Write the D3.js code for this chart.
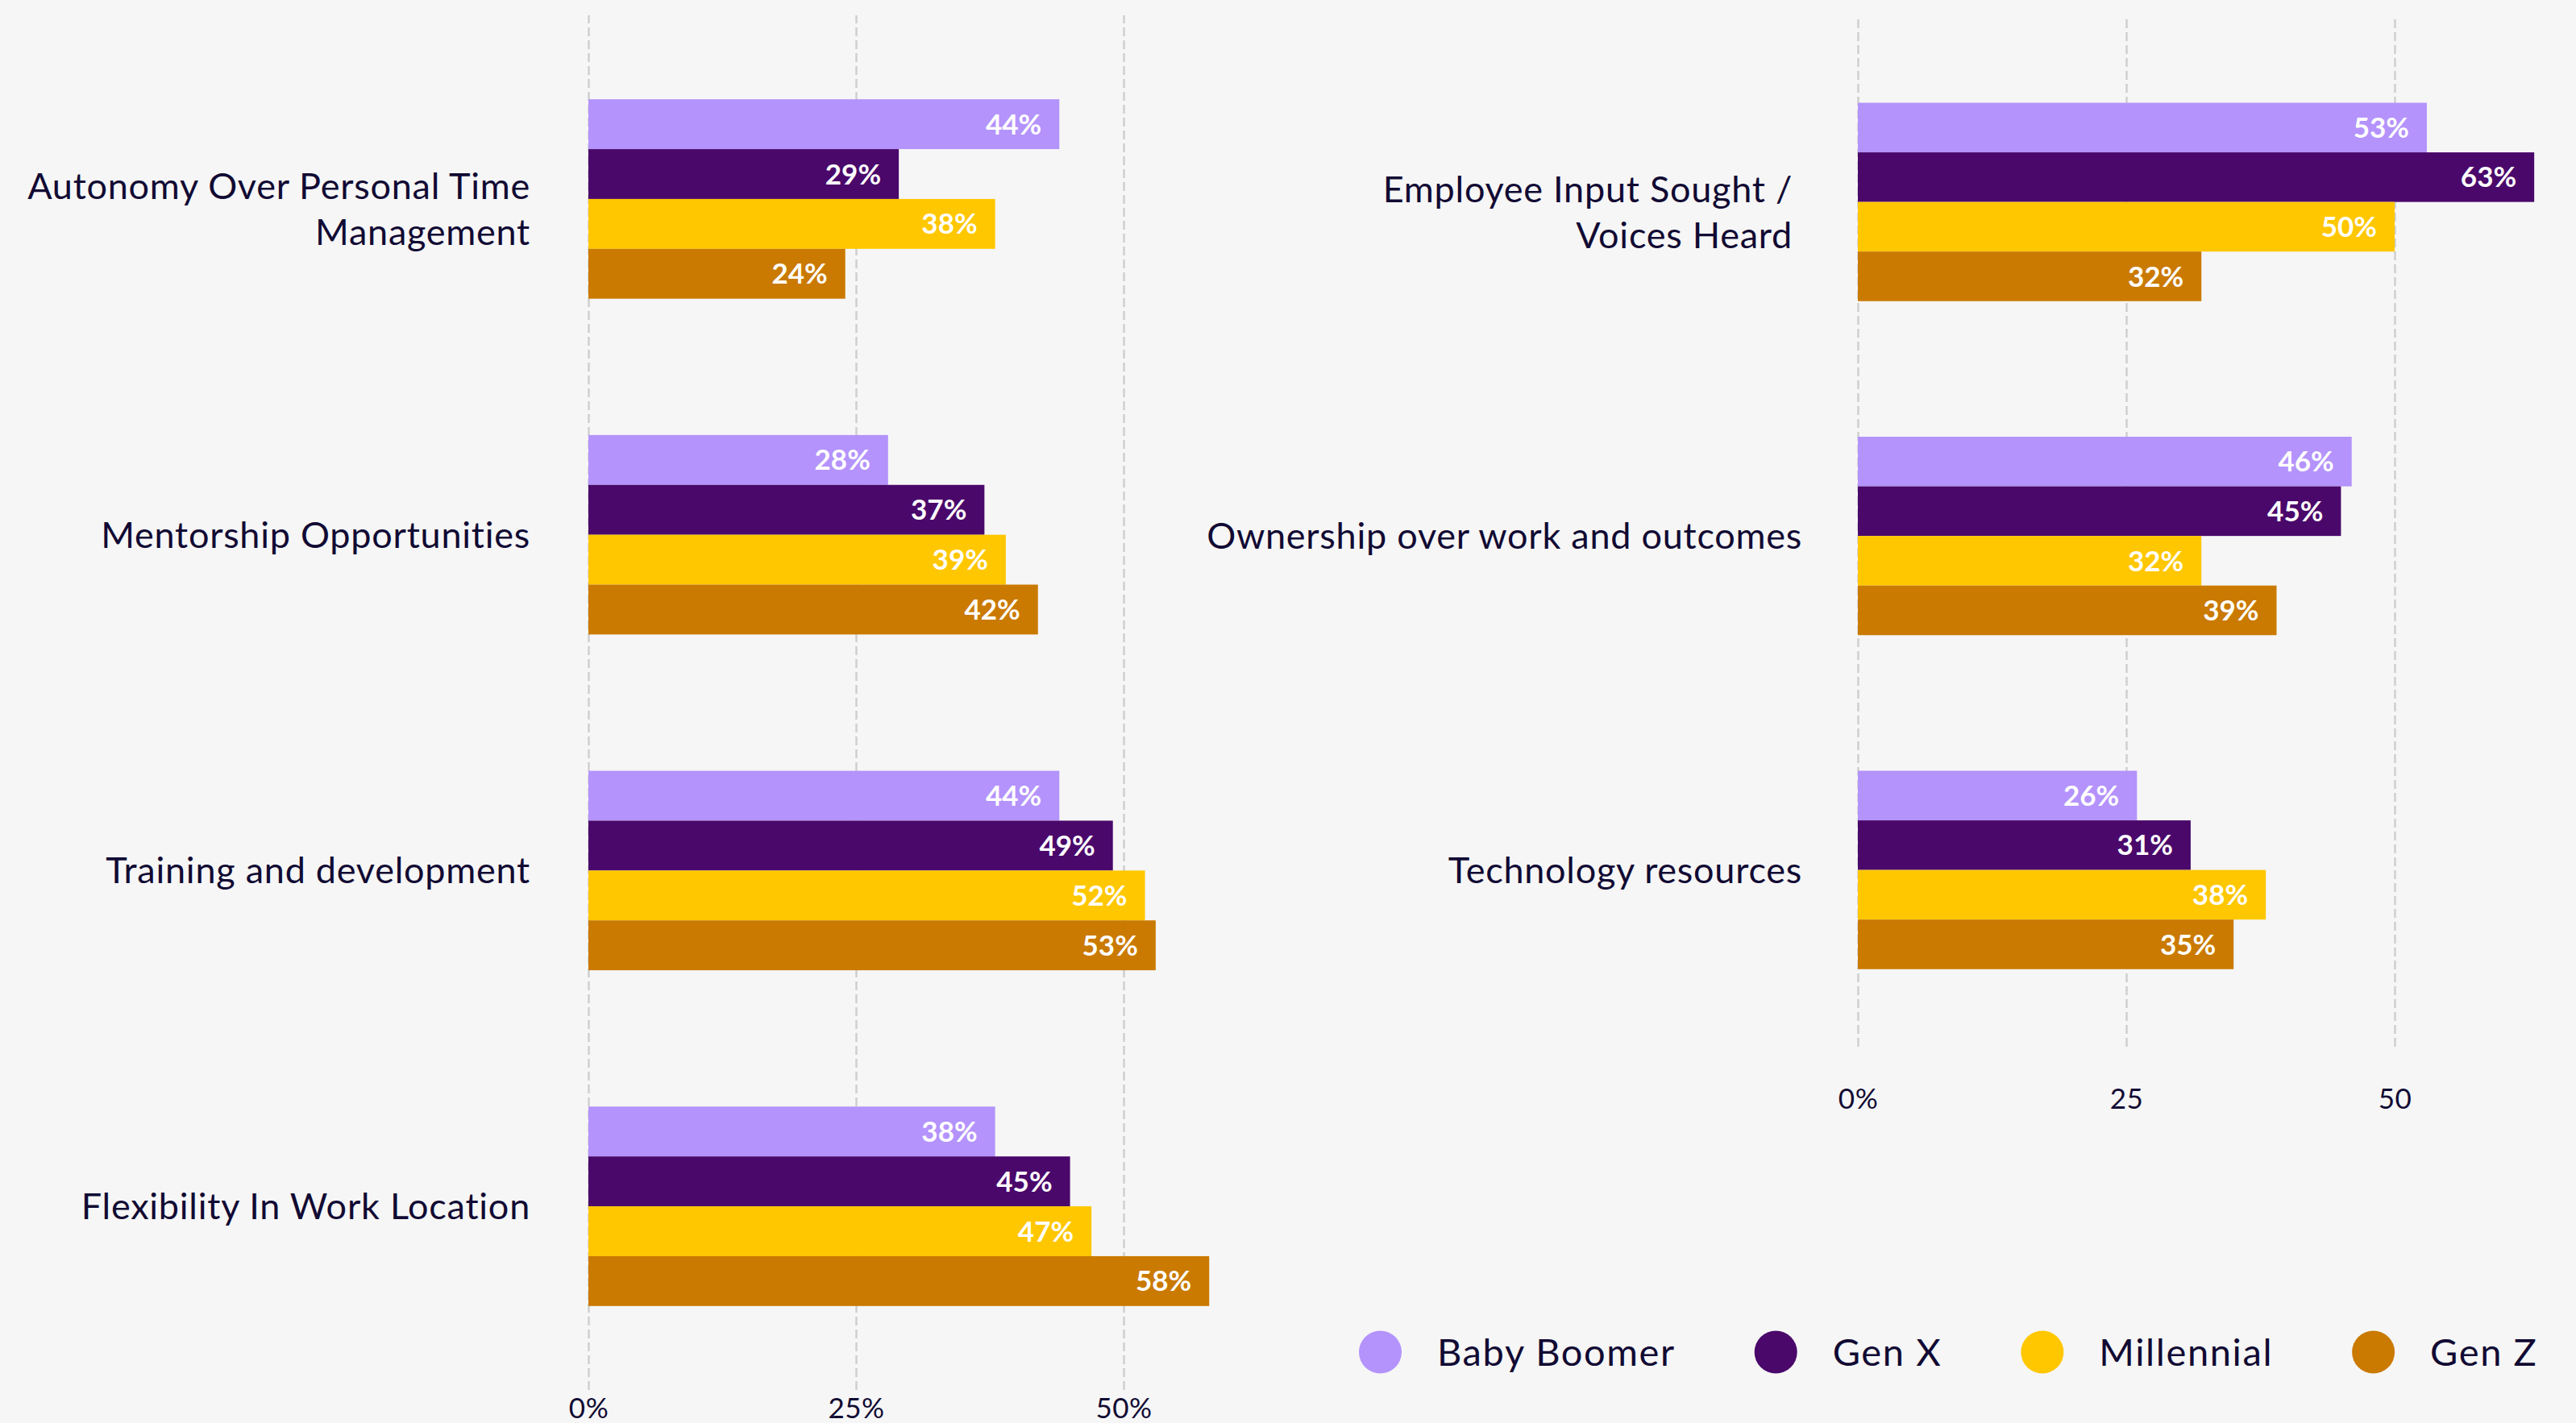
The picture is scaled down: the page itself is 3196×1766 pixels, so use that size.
<!DOCTYPE html>
<html>
<head>
<meta charset="utf-8">
<script src="https://cdn.jsdelivr.net/npm/d3@7"></script>
<style>
  html, body { margin: 0; padding: 0; background: #f6f6f6; }
  svg { display: block; font-family: Lato, "Open Sans", sans-serif; }
</style>
</head>
<body>
<svg id="chart" width="3196" height="1766"></svg>
<script>
// Generations (series) and their colours
const generations = ["Baby Boomer", "Gen X", "Millennial", "Gen Z"];
const genColors = ["#b493fc", "#4a086b", "#ffc700", "#ca7a00"];

// Left panel: categories (label lines) and percentages per generation
const leftCategories = [
  ["Autonomy Over Personal Time", "Management"],
  ["Mentorship Opportunities"],
  ["Training and development"],
  ["Flexibility In Work Location"]
];
const leftValues = [
  [44, 29, 38, 24],
  [28, 37, 39, 42],
  [44, 49, 52, 53],
  [38, 45, 47, 58]
];
const leftTicks = [0, 25, 50];
const leftTickLabels = ["0%", "25%", "50%"];

// Right panel
const rightCategories = [
  ["Employee Input Sought /", "Voices Heard"],
  ["Ownership over work and outcomes"],
  ["Technology resources"]
];
const rightValues = [
  [53, 63, 50, 32],
  [46, 45, 32, 39],
  [26, 31, 38, 35]
];
const rightTicks = [0, 25, 50];
const rightTickLabels = ["0%", "25", "50"];

const TEXT = "#110a33";
const svg = d3.select("#chart");
svg.append("rect").attr("width", 3196).attr("height", 1766).attr("fill", "#f6f6f6");

function drawPanel(cfg) {
  const keys = cfg.categories.map(c => c.join(" "));
  const x = d3.scaleLinear().domain([0, 50]).range([cfg.x0, cfg.x50]);
  const y = d3.scaleBand().domain(keys)
    .range([cfg.top, cfg.bottom])
    .paddingInner(0.406).paddingOuter(cfg.outer).align(cfg.align);
  const yInner = d3.scaleBand().domain(generations).range([0, y.bandwidth()]).padding(0);
  const color = d3.scaleOrdinal().domain(generations).range(genColors);

  const g = svg.append("g");

  // dashed vertical gridlines + tick labels
  const axis = d3.axisBottom(x)
    .tickValues(cfg.ticks)
    .tickFormat((d, i) => cfg.tickLabels[i])
    .tickSize(-(cfg.bottom - cfg.top))
    .tickPadding(cfg.tickPad);
  const ax = g.append("g")
    .attr("transform", `translate(0,${cfg.bottom})`)
    .call(axis);
  ax.select(".domain").remove();
  ax.selectAll(".tick line")
    .attr("stroke", "#cfcfcf")
    .attr("stroke-width", 2.5)
    .attr("stroke-dasharray", "11,5");
  ax.selectAll(".tick text")
    .attr("fill", TEXT)
    .style("font-family", "Lato, sans-serif")
    .style("font-size", "35px")
    .style("letter-spacing", "0.5px");

  // bar groups
  const groups = g.selectAll("g.cat")
    .data(cfg.values.map((vals, i) => ({ key: keys[i], lines: cfg.categories[i], vals })))
    .join("g")
    .attr("class", "cat")
    .attr("transform", d => `translate(0,${y(d.key)})`);

  groups.selectAll("rect")
    .data(d => d.vals.map((v, j) => ({ gen: generations[j], v })))
    .join("rect")
    .attr("x", x(0))
    .attr("y", d => yInner(d.gen))
    .attr("width", d => x(d.v) - x(0))
    .attr("height", yInner.bandwidth())
    .attr("fill", d => color(d.gen));

  groups.selectAll("text.val")
    .data(d => d.vals.map((v, j) => ({ gen: generations[j], v })))
    .join("text")
    .attr("class", "val")
    .attr("x", d => x(d.v) - 22)
    .attr("y", d => yInner(d.gen) + yInner.bandwidth() / 2)
    .attr("dy", "0.36em")
    .attr("text-anchor", "end")
    .attr("fill", "#ffffff")
    .style("font-size", "35px")
    .style("font-weight", 700)
    .text(d => d.v + "%");

  // category labels
  const lineH = 57;
  groups.append("text")
    .attr("text-anchor", "end")
    .attr("fill", TEXT)
    .style("font-size", "45px")
    .style("letter-spacing", "0.75px")
    .each(function (d) {
      const n = d.lines.length;
      const c = y.bandwidth() / 2;
      const base = c + 16 - (n - 1) * 15.5;
      d3.select(this).selectAll("tspan")
        .data(d.lines)
        .join("tspan")
        .attr("x", cfg.labelX - (n - 1) * cfg.wrapShift)
        .attr("y", (t, k) => base + k * lineH)
        .text(t => t);
    });
}

drawPanel({
  categories: leftCategories, values: leftValues,
  ticks: leftTicks, tickLabels: leftTickLabels,
  x0: 730, x50: 1394, top: 19, bottom: 1725,
  outer: 0.25, align: 0.5, tickPad: 10, labelX: 658, wrapShift: 0
});

drawPanel({
  categories: rightCategories, values: rightValues,
  ticks: rightTicks, tickLabels: rightTickLabels,
  x0: 2305, x50: 2971, top: 19, bottom: 1299,
  outer: 0.247, align: 0.53, tickPad: 52, labelX: 2236, wrapShift: 12
});

// legend
const legend = svg.append("g").attr("transform", "translate(1686,1678)");
let cursor = 0;
generations.forEach((gName, i) => {
  const item = legend.append("g").attr("transform", `translate(${cursor},0)`);
  item.append("circle").attr("cx", 26.5).attr("cy", 0).attr("r", 26.5).attr("fill", genColors[i]);
  const t = item.append("text")
    .attr("x", 97)
    .attr("y", 17)
    .attr("fill", TEXT)
    .style("font-size", "47px")
    .style("letter-spacing", "1.6px")
    .text(gName);
  cursor += 97 + t.node().getComputedTextLength() + 98;
});
</script>
</body>
</html>
